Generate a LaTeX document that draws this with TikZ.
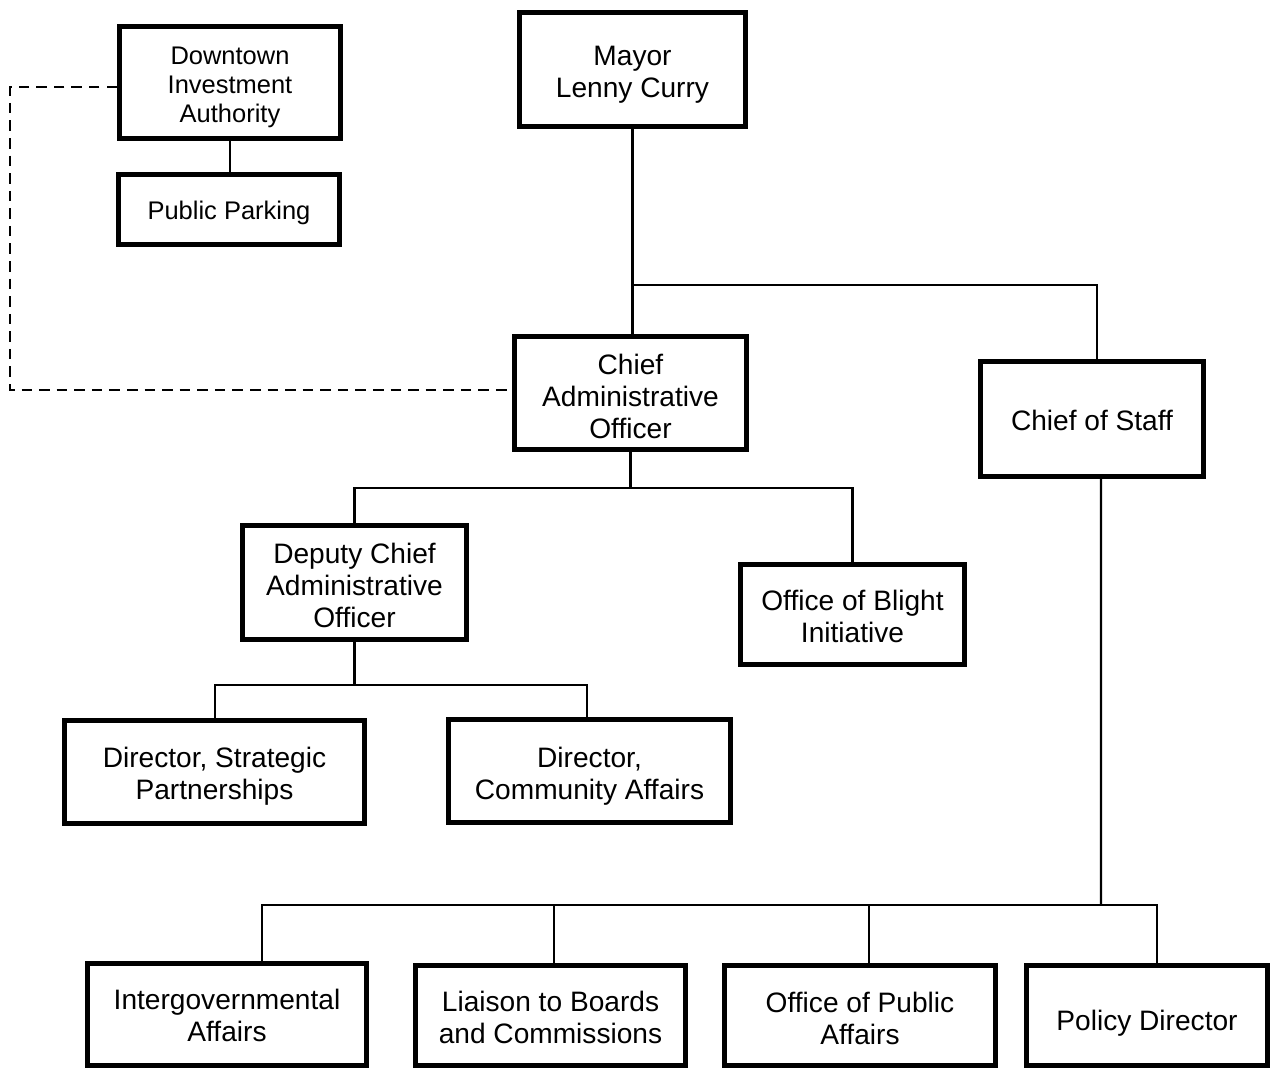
\documentclass[tikz,border=0pt]{standalone}
\usepackage{fontspec}
\setmainfont{Liberation Sans}
\begin{document}
\begin{tikzpicture}[x=0.02cm,y=-0.02cm,
 box/.style={draw, line width=2.8pt, align=center, inner sep=0pt, font=\fontsize{16}{18.2}\selectfont},
 smallbox/.style={box, font=\fontsize{14.5}{16.5}\selectfont},
 first/.style={execute at begin node={\rule{0pt}{#1}}},
 conn/.style={line width=1.3pt},
 dashconn/.style={line width=1.4pt, dash pattern=on 6pt off 4pt}]
\useasboundingbox (0,0) rectangle (1270,1069);

\node[smallbox, first=48.6pt, minimum width=4.42cm, minimum height=2.24cm] (DIA) at (230,82.5) {Downtown\\Investment\\Authority};
\node[smallbox, first=14pt, minimum width=4.42cm, minimum height=1.40cm] (PP) at (229,209.5) {Public Parking};
\node[box, first=35.5pt, minimum width=4.52cm, minimum height=2.28cm] (MAY) at (632.5,69.5) {Mayor\\Lenny Curry};
\node[box, first=51.5pt, minimum width=4.64cm, minimum height=2.26cm] (CAO) at (630.5,393) {Chief\\Administrative\\Officer};
\node[box, first=12.8pt, minimum width=4.46cm, minimum height=2.30cm] (COS) at (1092,419) {Chief of Staff};
\node[box, first=51.5pt, minimum width=4.48cm, minimum height=2.28cm] (DEP) at (354.5,582.5) {Deputy Chief\\Administrative\\Officer};
\node[box, first=32.2pt, minimum width=4.48cm, minimum height=2.00cm] (OBI) at (852.5,614.5) {Office of Blight\\Initiative};
\node[box, first=34.4pt, minimum width=6.00cm, minimum height=2.06cm] (DSP) at (214.5,772) {Director, Strategic\\Partnerships};
\node[box, first=35.5pt, minimum width=5.64cm, minimum height=2.06cm] (DCA) at (589.5,771) {Director,\\Community Affairs};
\node[box, first=31.0pt, minimum width=5.58cm, minimum height=2.04cm] (IGA) at (227,1014.5) {Intergovernmental\\Affairs};
\node[box, first=32.2pt, minimum width=5.40cm, minimum height=2.00cm] (LBC) at (550.5,1015.5) {Liaison to Boards\\and Commissions};
\node[box, first=33.3pt, minimum width=5.42cm, minimum height=2.00cm] (OPA) at (860,1015.5) {Office of Public\\Affairs};
\node[box, first=20.7pt, minimum width=4.82cm, minimum height=2.00cm] (POL) at (1147,1015.5) {Policy Director};

% junction coordinates
\coordinate (j1) at (632,285);
\coordinate (j2) at (631,488);
\coordinate (j3) at (352,685);
\coordinate (j4) at (1101,905);
\coordinate (dl) at (10,0);

% DIA - Public Parking
\draw[conn] (DIA.south) -- (DIA.south |- PP.north);
% dashed link
\draw[dashconn] ([yshift=-0.09cm]DIA.west) -- ([yshift=-0.09cm]DIA.west -| dl) -- ([yshift=0.06cm]dl |- CAO.west) -- ([yshift=0.06cm]CAO.west);
% Mayor
\draw[conn] (MAY.south) -- (MAY.south |- CAO.north);
\draw[conn] (j1) -| ([xshift=0.1cm]COS.north);
% CAO
\draw[conn] (CAO.south) -- (CAO.south |- j2);
\draw[conn] (DEP.north) |- (j2) -| (OBI.north);
% Deputy
\draw[conn] (DEP.south) -- (DEP.south |- j3);
\draw[conn] ([xshift=0.01cm]DSP.north) |- (j3) -| ([xshift=-0.05cm]DCA.north);
% Chief of Staff
\draw[conn] ([xshift=0.18cm]COS.south) -- (j4);
\draw[conn] ([xshift=0.7cm]IGA.north) |- (j4) -| ([xshift=0.2cm]POL.north);
\draw[conn] ([xshift=0.07cm]LBC.north) -- ([xshift=0.07cm]LBC.north |- j4);
\draw[conn] ([xshift=0.18cm]OPA.north) -- ([xshift=0.18cm]OPA.north |- j4);
\end{tikzpicture}
\end{document}
